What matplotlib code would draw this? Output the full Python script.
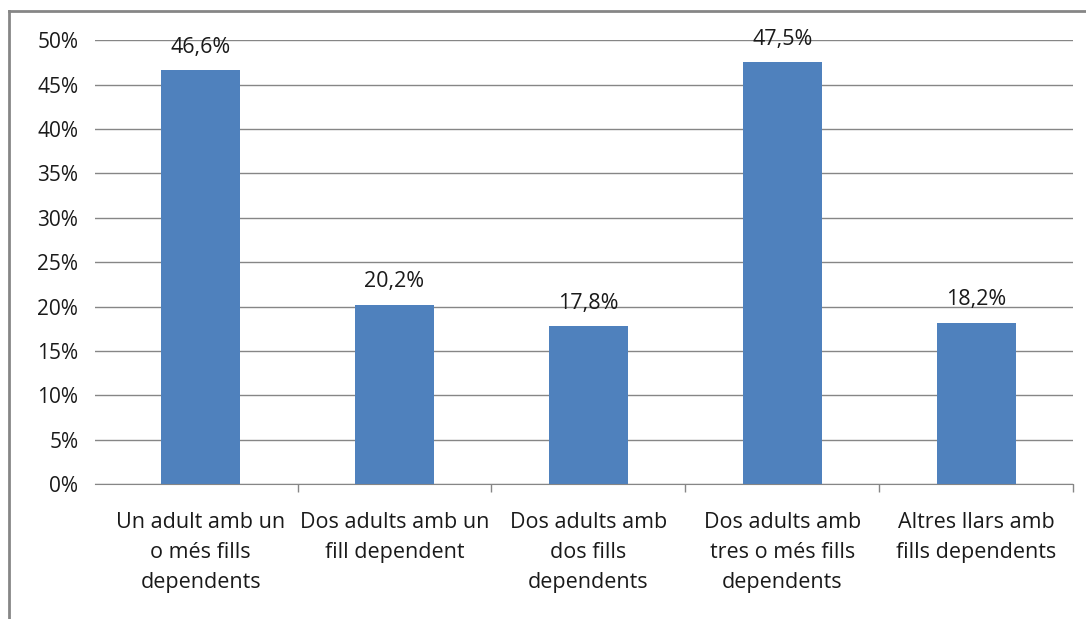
import matplotlib.pyplot as plt
from matplotlib.lines import Line2D

# categories and values
categories = ['Un adult amb un\no més fills\ndependents',
              'Dos adults amb un\nfill dependent',
              'Dos adults amb\ndos fills\ndependents',
              'Dos adults amb\ntres o més fills\ndependents',
              'Altres llars amb\nfills dependents']
values = [46.6, 20.2, 17.8, 47.5, 18.2]
yticks = [0, 5, 10, 15, 20, 25, 30, 35, 40, 45, 50]

plt.rcParams['font.family'] = ['Open Sans', 'DejaVu Sans']
grid_col = '#868686'
text_col = '#1a1a1a'

fig = plt.figure(figsize=(10.86, 6.19), dpi=100)
ax = fig.add_axes([0.0875, 0.218, 0.9006, 0.717])

x = range(len(categories))
bars = ax.bar(x, values, width=0.407, color='#4F81BD', zorder=3)
ax.bar_label(bars, labels=[f'{v:.1f}%'.replace('.', ',') for v in values],
             padding=9, fontsize=15.5, color=text_col)

# gridlines reach a little past the first category, as in the original
ax.set_xlim(-0.545, len(categories) - 0.5)
ax.set_ylim(0, 50)
ax.set_yticks(yticks)
ax.set_yticklabels([f'{t}%' for t in yticks], fontsize=15, color=text_col)
ax.yaxis.grid(True, color=grid_col, linewidth=1, zorder=0)
ax.tick_params(axis='y', length=0, pad=12)

ax.set_xticks(x)
ax.set_xticklabels(categories, fontsize=15.5, color=text_col, linespacing=1.58)
ax.set_xticks([i - 0.5 for i in range(1, len(categories) + 1)], minor=True)
ax.tick_params(axis='x', which='major', length=0, pad=20)
ax.tick_params(axis='x', which='minor', length=6, color=grid_col, width=1)

for s in ['top', 'right', 'left']:
    ax.spines[s].set_visible(False)
ax.spines['bottom'].set_color(grid_col)

# outer chart frame (top and left edges visible)
fig.add_artist(Line2D([0.008, 1.0], [0.982, 0.982], color=grid_col, linewidth=2))
fig.add_artist(Line2D([0.008, 0.008], [0.0, 0.982], color=grid_col, linewidth=2))

fig.savefig('out.png', dpi=100)
